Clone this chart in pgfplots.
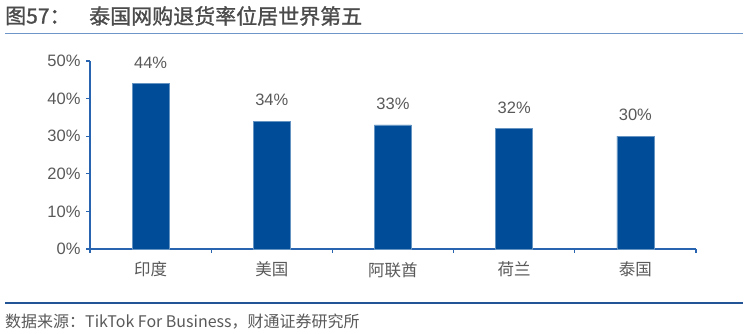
\documentclass[border=0pt]{standalone}
\usepackage{pgfplots}
\pgfplotsset{compat=1.18}
\usepackage{fontspec}
\setmainfont{Liberation Sans}
\newfontfamily\cjk{Noto Sans CJK SC}
\newfontfamily\cjktitle[FakeBold=1.2]{Noto Sans CJK SC}
\definecolor{barblue}{RGB}{0,76,153}
\definecolor{axblue}{RGB}{40,100,175}
\definecolor{txtgray}{RGB}{89,89,89}
\definecolor{titlegray}{RGB}{75,75,75}
\definecolor{lineblue}{RGB}{110,150,200}
\definecolor{botblue}{RGB}{35,85,150}
\begin{document}
\begin{tikzpicture}
\path[use as bounding box] (0pt,0pt) rectangle (748pt,-334pt);
\node[anchor=west,inner sep=0,text=titlegray,font=\cjktitle\fontsize{21}{23}\selectfont] at (5pt,-16pt) {图57：};
\node[anchor=west,inner sep=0,text=titlegray,font=\cjktitle\fontsize{21}{23}\selectfont] at (89pt,-16pt) {泰国网购退货率位居世界第五};
\draw[lineblue,line width=1.5pt] (5pt,-33.5pt) -- (743pt,-33.5pt);
\begin{axis}[
  at={(90pt,-249pt)}, anchor=south west,
  scale only axis, width=606pt, height=188pt,
  xmin=-0.5, xmax=4.5, ymin=0, ymax=50,
  axis x line*=bottom, axis y line*=left,
  axis line style={axblue,line width=1.2pt},
  ytick={0,10,...,50},
  yticklabel={\pgfmathprintnumber{\tick}\%},
  xtick={0,...,4},
  xticklabels={\cjk 印度,\cjk 美国,\cjk 阿联酋,\cjk 荷兰,\cjk 泰国},
  minor xtick={-0.5,0.5,...,4.5},
  major x tick style={draw=none},
  minor x tick style={axblue,line width=1.2pt},
  y tick style={axblue,line width=1.2pt},
  tick align=outside,
  major tick length=4pt, minor tick length=4pt,
  ticklabel style={text=txtgray,font=\fontsize{16.5}{18}\selectfont},
  xticklabel style={yshift=-5.5pt},
  yticklabel style={xshift=-2pt},
  /pgf/number format/assume math mode=true,
  ybar, bar width=37pt,
  nodes near coords={\pgfmathprintnumber{\pgfplotspointmeta}\%},
  every node near coord/.append style={text=txtgray,font=\fontsize{16.5}{18}\selectfont,yshift=11.5pt},
  clip=false,
]
\addplot[fill=barblue,draw=barblue!60!white,line width=0.5pt] coordinates {(0,44) (1,34) (2,33) (3,32) (4,30)};
\end{axis}
\draw[botblue,line width=1.3pt] (5pt,-303pt) -- (743pt,-303pt);
\node[anchor=west,inner sep=0,text=txtgray,font=\cjk\fontsize{16}{18}\selectfont] at (5pt,-322pt) {数据来源：TikTok For Business，财通证券研究所};
\end{tikzpicture}
\end{document}
